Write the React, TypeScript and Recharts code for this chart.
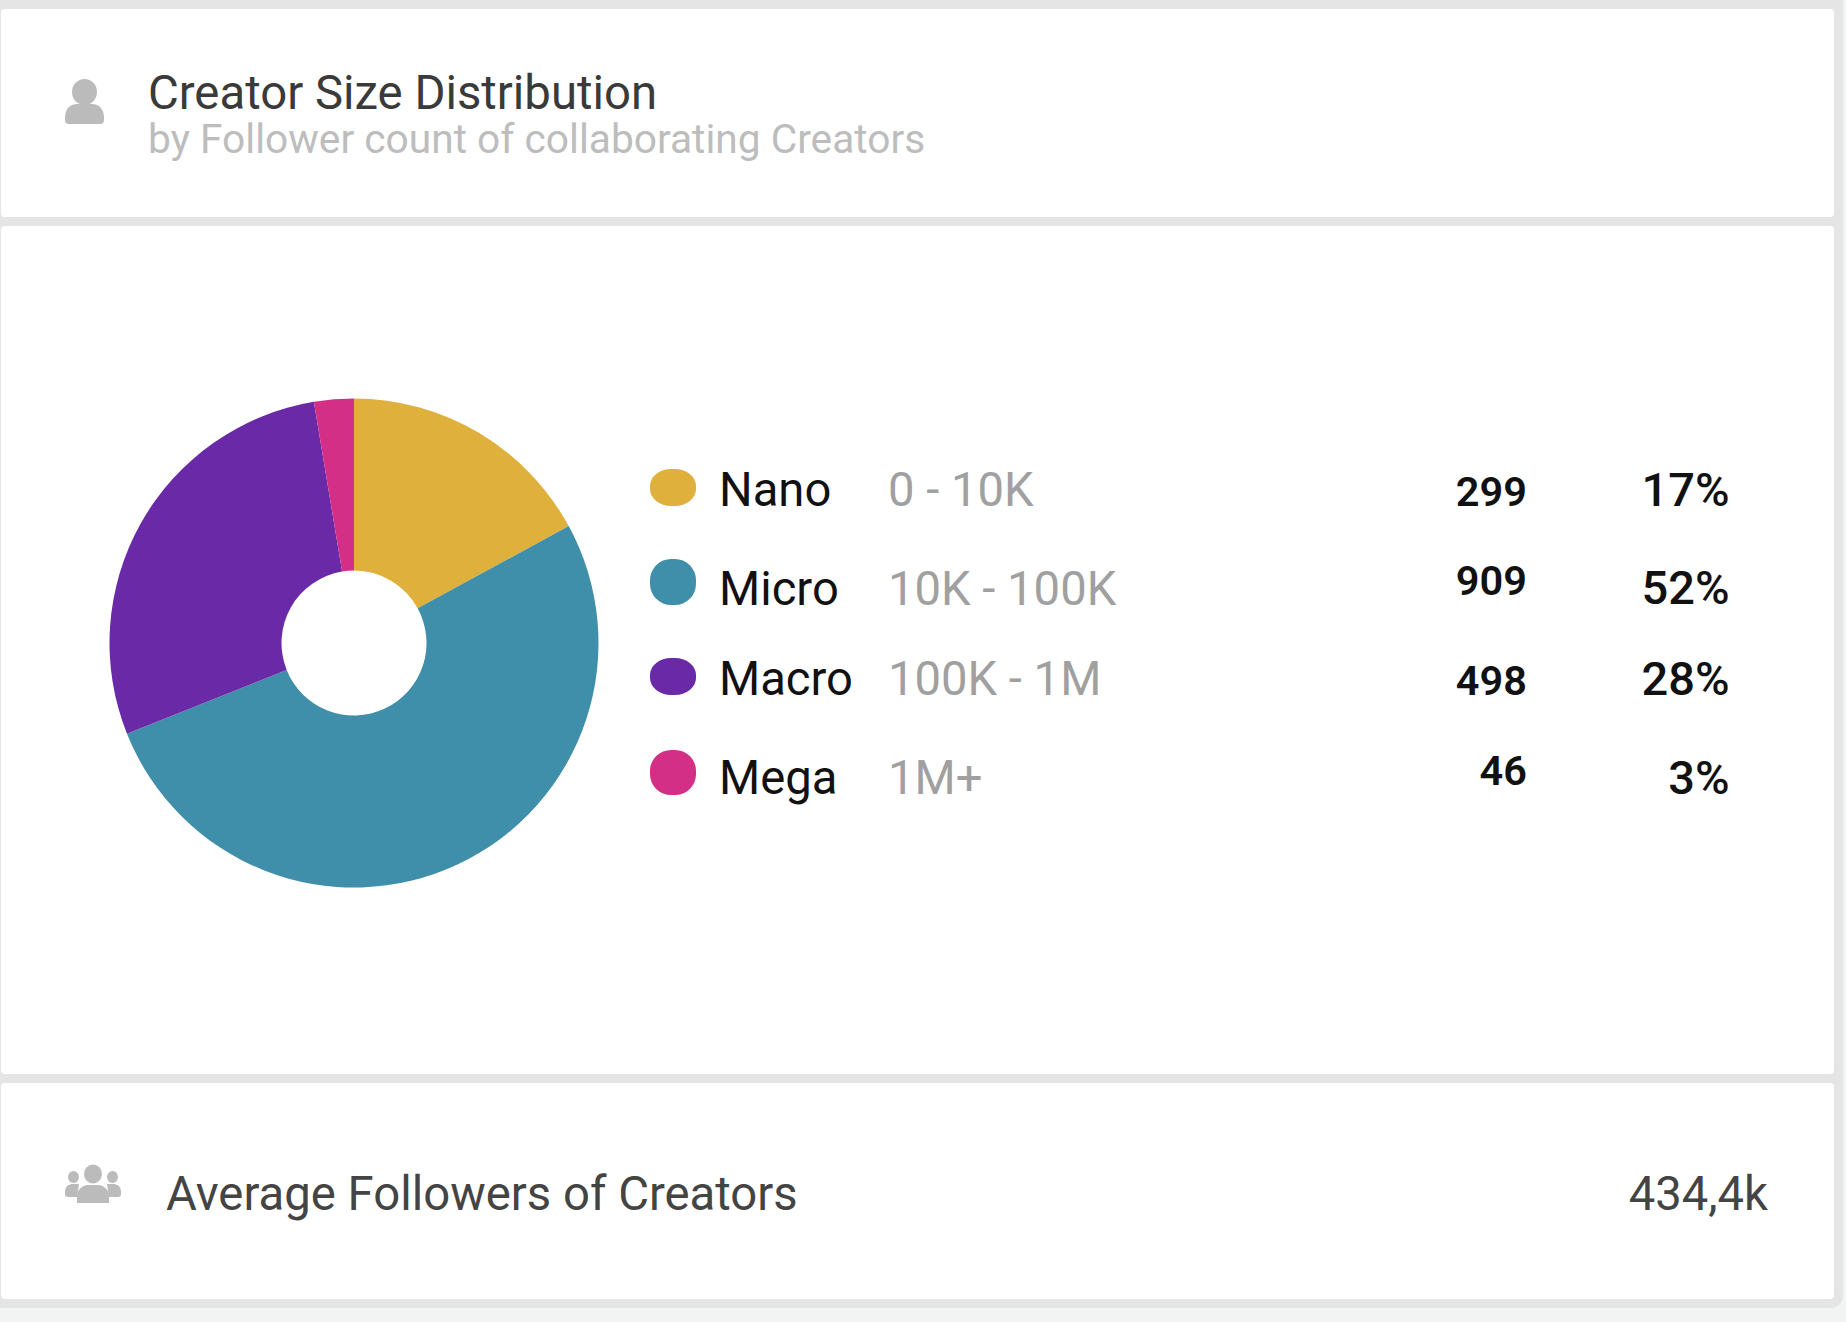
import React from "react";
import { PieChart, Pie, Cell } from "recharts";

const categories = ["Nano", "Micro", "Macro", "Mega"];
const ranges = ["0 - 10K", "10K - 100K", "100K - 1M", "1M+"];
const counts = [299, 909, 498, 46];
const percents = ["17%", "52%", "28%", "3%"];
const colors = ["#DFB03C", "#3F8EAA", "#6A2AA8", "#D32F86"];

const titleText = "Creator Size Distribution";
const subtitleText = "by Follower count of collaborating Creators";
const footerLabel = "Average Followers of Creators";
const footerValue = "434,4k";

const pieData = categories.map((name, i) => ({ name, value: counts[i] }));

const FONT = "Roboto, sans-serif";
const labelBaselines = [506, 605, 695, 794];
const percentBaselines = [506, 604, 695, 794];
const countBaselines = [506, 595, 695, 785];
const swatchBoxes = [
  [469, 37],
  [559, 46],
  [658, 37],
  [750, 45],
];

const panels = [
  [9, 208],
  [226, 848],
  [1083, 216],
];

export default function App() {
  return (
    <div style={{ position: "absolute", left: 0, top: 0, width: 1846, height: 1322, background: "#f2f4f4", overflow: "hidden" }}>
      <div style={{ position: "absolute", left: 0, top: 0, width: 1843, height: 1308, background: "#e5e5e5", borderBottomRightRadius: 12 }} />
      {panels.map(([top, height], i) => (
        <div key={i} style={{ position: "absolute", left: 1, top, width: 1833, height, background: "#fff", borderRadius: 4 }} />
      ))}
      <div style={{ position: "absolute", left: 0, top: 0 }}>
        <PieChart width={1846} height={1322} margin={{ top: 0, right: 0, bottom: 0, left: 0 }}>
          <Pie
            data={pieData}
            dataKey="value"
            nameKey="name"
            cx={354}
            cy={643}
            outerRadius={244.5}
            innerRadius={72.5}
            startAngle={90}
            endAngle={-270}
            stroke="none"
            isAnimationActive={false}
          >
            {pieData.map((d, i) => (
              <Cell key={d.name} fill={colors[i]} />
            ))}
          </Pie>
        </PieChart>
      </div>
      {categories.map((c, i) => (
        <div
          key={c}
          style={{
            position: "absolute",
            left: 650,
            top: swatchBoxes[i][0],
            width: 46,
            height: swatchBoxes[i][1],
            background: colors[i],
            borderRadius: "46%",
          }}
        />
      ))}
      <svg width={1846} height={1322} style={{ position: "absolute", left: 0, top: 0 }} fontFamily={FONT}>
        <g fill="#bbbbbb" transform="translate(-1 0)">
          <ellipse cx={85.5} cy={92} rx={12.5} ry={13} />
          <path d="M66 118 C66 108 72 104 78 104 L93 104 C99 104 105 108 105 118 L105 120 Q105 124 101 124 L70 124 Q66 124 66 120 Z" />
        </g>
        <g fill="#bbbbbb">
          <ellipse cx={93} cy={1174} rx={9} ry={9.5} />
          <ellipse cx={73.5} cy={1177} rx={5.5} ry={6} />
          <ellipse cx={112.5} cy={1177} rx={5.5} ry={6} />
          <path d="M65 1192 C65 1186 69 1184 73 1184 L79 1184 L77 1197 L68 1197 Q65 1197 65 1194 Z" />
          <path d="M121 1192 C121 1186 117 1184 113 1184 L107 1184 L109 1197 L118 1197 Q121 1197 121 1194 Z" />
          <path d="M77 1203 L77 1196 C77 1189 83 1185 88 1185 L98 1185 C103 1185 109 1189 109 1196 L109 1203 Z" />
        </g>
        <text x={148} y={109} fontSize={47.3} fill="#3a3a3a">{titleText}</text>
        <text x={148} y={153} fontSize={40.7} fill="#bdbdbd">{subtitleText}</text>
        {categories.map((c, i) => (
          <text key={c} x={719} y={labelBaselines[i]} fontSize={47.2} fill="#111">{c}</text>
        ))}
        {ranges.map((r, i) => (
          <text key={r} x={888} y={labelBaselines[i]} fontSize={47.2} fill="#a0a0a0">{r}</text>
        ))}
        {counts.map((v, i) => (
          <text key={v} x={1527} y={countBaselines[i]} fontSize={41.5} fontWeight={600} textAnchor="end" fill="#111">{v}</text>
        ))}
        {percents.map((p, i) => (
          <text key={p} x={1729.5} y={percentBaselines[i]} fontSize={47} fontWeight={500} textAnchor="end" fill="#111">{p}</text>
        ))}
        <text x={166} y={1210} fontSize={47.3} fill="#444">{footerLabel}</text>
        <text x={1768} y={1210} fontSize={47.2} textAnchor="end" fill="#444">{footerValue}</text>
      </svg>
    </div>
  );
}
